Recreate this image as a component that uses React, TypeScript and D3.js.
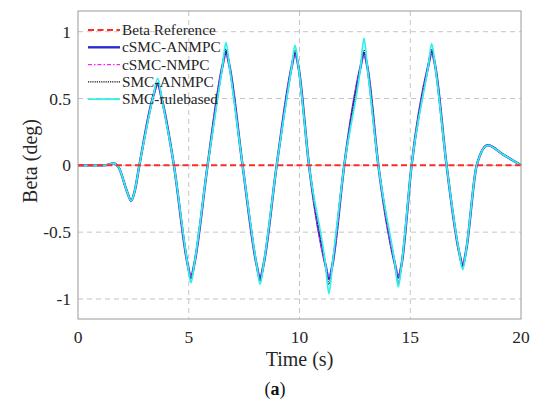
import { useEffect, useRef } from "react";
import * as d3 from "d3";

// time stamps (s)
const time = [
  0, 1.2, 1.6, 1.85, 2.2, 2.4, 2.55, 2.77, 3.4, 3.6, 3.78, 4.33, 4.95, 5.1, 5.25, 5.85, 6.53, 6.68, 6.83,
  7.43, 8.07, 8.22, 8.37, 8.97, 9.65, 9.8, 9.95, 10.43, 11.18, 11.33, 11.48, 12.02, 12.76, 12.91, 13.06,
  13.56, 14.31, 14.46, 14.61, 15.06, 15.82, 15.97, 16.12, 16.64, 17.22, 17.37, 17.52, 18.0, 18.5, 19.2, 20,
];

const betaRef = time.map(() => 0);

const csmcAnmpc = [
  0, 0, 0.015, -0.02, -0.19, -0.265, -0.2, 0, 0.52, 0.61, 0.5, 0, -0.74, -0.84, -0.74, 0, 0.75, 0.85, 0.75,
  0, -0.75, -0.85, -0.75, 0, 0.74, 0.84, 0.74, 0, -0.75, -0.85, -0.75, 0, 0.74, 0.84, 0.74,
  0, -0.74, -0.84, -0.74, 0, 0.75, 0.85, 0.75, 0, -0.66, -0.75, -0.64, 0, 0.15, 0.08, 0,
];

const csmcNmpc = [
  0, 0, 0.015, -0.02, -0.19, -0.265, -0.2, 0, 0.52, 0.6, 0.5, 0, -0.74, -0.83, -0.74, 0, 0.75, 0.83, 0.75,
  0, -0.75, -0.84, -0.75, 0, 0.74, 0.83, 0.74, 0, -0.75, -0.83, -0.75, 0, 0.74, 0.83, 0.74,
  0, -0.74, -0.83, -0.74, 0, 0.75, 0.84, 0.75, 0, -0.66, -0.74, -0.64, 0, 0.15, 0.08, 0,
];

const smcAnmpc = [
  0, 0, 0.015, -0.02, -0.19, -0.265, -0.2, 0, 0.52, 0.62, 0.5, 0, -0.74, -0.86, -0.74, 0, 0.75, 0.87, 0.75,
  0, -0.75, -0.87, -0.75, 0, 0.74, 0.86, 0.74, 0, -0.75, -0.89, -0.75, 0, 0.74, 0.86, 0.74,
  0, -0.74, -0.88, -0.74, 0, 0.75, 0.87, 0.75, 0, -0.66, -0.76, -0.64, 0, 0.15, 0.08, 0,
];

const smcRule = [
  0, 0, 0.015, -0.02, -0.19, -0.265, -0.2, 0, 0.52, 0.65, 0.5, 0, -0.74, -0.88, -0.74, 0, 0.75, 0.92, 0.75,
  0, -0.75, -0.89, -0.75, 0, 0.74, 0.9, 0.74, 0, -0.75, -0.96, -0.75, 0, 0.74, 0.95, 0.74,
  0, -0.74, -0.91, -0.74, 0, 0.75, 0.91, 0.75, 0, -0.66, -0.78, -0.64, 0, 0.15, 0.08, 0,
];

const xTicks = [0, 5, 10, 15, 20];
const yTicks = [-1, -0.5, 0, 0.5, 1];

const series = [
  { name: "Beta Reference", values: betaRef, color: "#ff2a2a", width: 2, dash: "6,3.5" },
  { name: "cSMC-ANMPC", values: csmcAnmpc, color: "#2b2bd6", width: 2.4, dash: "" },
  { name: "cSMC-NMPC", values: csmcNmpc, color: "#ff22ff", width: 1.4, dash: "4,2,1.5,2" },
  { name: "SMC-ANMPC", values: smcAnmpc, color: "#111111", width: 1.4, dash: "1.2,1" },
  { name: "SMC-rulebased", values: smcRule, color: "#33f0ec", width: 1.8, dash: "" },
];

const App = () => {
  const svgRef = useRef<SVGSVGElement | null>(null);

  useEffect(() => {
    if (!svgRef.current) return;
    const svg = d3.select(svgRef.current);
    svg.selectAll("*").remove();

    const left = 78, right = 521, top = 11, bottom = 319;
    const font = "'Liberation Serif', 'Times New Roman', serif";

    const x = d3.scaleLinear().domain([0, 20]).range([left, right]);
    const y = d3.scaleLinear().domain([-1.15, 1.155]).range([bottom, top]);

    svg.append("rect").attr("width", 550).attr("height", 400).attr("fill", "#fff");

    // grid
    const grid = svg.append("g").attr("stroke", "#c4c4c4").attr("stroke-width", 1).attr("stroke-dasharray", "5,4");
    xTicks.slice(1, -1).forEach((t) => {
      grid.append("line").attr("x1", x(t)).attr("x2", x(t)).attr("y1", top).attr("y2", bottom);
    });
    yTicks.forEach((t) => {
      grid.append("line").attr("x1", left).attr("x2", right).attr("y1", y(t)).attr("y2", y(t));
    });

    // lines
    const line = d3
      .line<number>()
      .x((_, i) => x(time[i]))
      .y((d) => y(d))
      .curve(d3.curveMonotoneX);

    const order = [1, 2, 3, 4, 0];
    order.forEach((k) => {
      const s = series[k];
      svg
        .append("path")
        .attr("d", line(s.values))
        .attr("fill", "none")
        .attr("stroke", s.color)
        .attr("stroke-width", s.width)
        .attr("stroke-dasharray", s.dash || null)
        .attr("stroke-linejoin", "round");
    });

    // frame
    svg
      .append("rect")
      .attr("x", left)
      .attr("y", top)
      .attr("width", right - left)
      .attr("height", bottom - top)
      .attr("fill", "none")
      .attr("stroke", "#9a9a9a")
      .attr("stroke-width", 1);

    // tick labels
    svg
      .append("g")
      .selectAll("text")
      .data(xTicks)
      .enter()
      .append("text")
      .attr("x", (d) => x(d))
      .attr("y", 343)
      .attr("text-anchor", "middle")
      .attr("font-family", font)
      .attr("font-size", 17.5)
      .attr("fill", "#262626")
      .text((d) => d);

    svg
      .append("g")
      .selectAll("text")
      .data(yTicks)
      .enter()
      .append("text")
      .attr("x", 71)
      .attr("y", (d) => y(d) + 6)
      .attr("text-anchor", "end")
      .attr("font-family", font)
      .attr("font-size", 17.5)
      .attr("fill", "#262626")
      .text((d) => (d < 0 ? "-" + Math.abs(d) : String(d)));

    // axis titles
    svg
      .append("text")
      .attr("x", x(10))
      .attr("y", 366)
      .attr("text-anchor", "middle")
      .attr("font-family", font)
      .attr("font-size", 20)
      .attr("fill", "#262626")
      .text("Time (s)");

    svg
      .append("text")
      .attr("transform", `translate(37,161) rotate(-90)`)
      .attr("text-anchor", "middle")
      .attr("font-family", font)
      .attr("font-size", 20)
      .attr("fill", "#262626")
      .text("Beta (deg)");

    const cap = svg
      .append("text")
      .attr("x", 275)
      .attr("y", 395)
      .attr("text-anchor", "middle")
      .attr("font-family", font)
      .attr("font-size", 18)
      .attr("fill", "#111");
    cap.append("tspan").text("(");
    cap.append("tspan").attr("font-weight", "bold").text("a");
    cap.append("tspan").text(")");

    // legend
    const leg = svg.append("g");
    series.forEach((s, i) => {
      const ly = 30 + i * 17.3;
      leg
        .append("line")
        .attr("x1", 88)
        .attr("x2", 120)
        .attr("y1", ly)
        .attr("y2", ly)
        .attr("stroke", s.color)
        .attr("stroke-width", s.width)
        .attr("stroke-dasharray", s.dash || null);
      leg
        .append("text")
        .attr("x", 122)
        .attr("y", ly + 5)
        .attr("font-family", font)
        .attr("font-size", 15.3)
        .attr("fill", "#262626")
        .text(s.name);
    });
  }, []);

  return (
    <div style={{ position: "absolute", left: 0, top: 0 }}>
      <svg ref={svgRef} width={550} height={400}></svg>
    </div>
  );
};

export default App;
